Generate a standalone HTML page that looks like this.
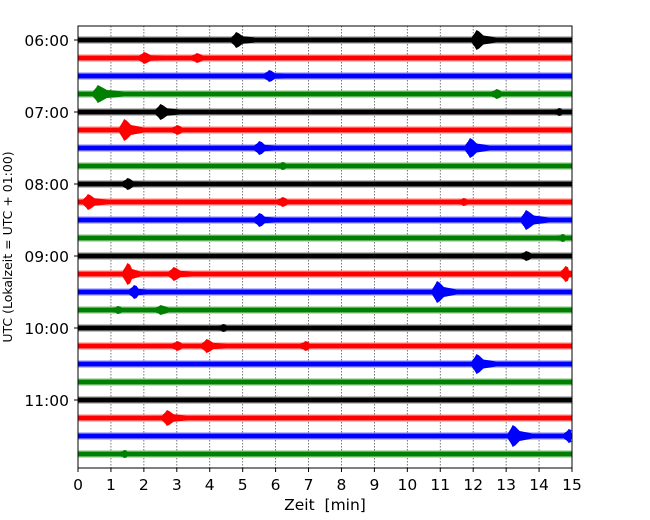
<!DOCTYPE html>
<html><head><meta charset="utf-8"><style>
html,body{margin:0;padding:0;background:#fff;width:650px;height:520px;overflow:hidden}
svg text{font-family:"DejaVu Sans","Liberation Sans",sans-serif;white-space:pre}
</style></head><body>
<svg id="chart" width="650" height="520" viewBox="0 0 650 520" xmlns="http://www.w3.org/2000/svg"></svg>
<script>
// data
const hourLabels = ["06:00","07:00","08:00","09:00","10:00","11:00"];
const xTickLabels = [0,1,2,3,4,5,6,7,8,9,10,11,12,13,14,15];
const traceColors = ["#000000","#ff0000","#0000ff","#008000"];
// events per trace: [minute, half-amplitude px, decay minutes]
const traceEvents = [
 [[4.8,8,0.6],[12.1,10,0.6]],
 [[2.0,6,0.6],[3.6,5,0.6]],
 [[5.8,6,0.5]],
 [[0.6,9,0.8],[12.7,5,0.5]],
 [[2.5,8,0.6],[14.6,4,0.3]],
 [[1.4,11,0.6],[3.0,5,0.5]],
 [[5.5,7,0.5],[11.9,10,0.6]],
 [[6.2,4,0.4]],
 [[1.5,6,0.5]],
 [[0.3,8,0.6],[6.2,5,0.5],[11.7,4,0.4]],
 [[5.5,7,0.5],[13.6,10,0.7]],
 [[14.7,4,0.3]],
 [[13.6,5,0.5]],
 [[1.5,11,0.4],[2.9,7,0.6],[14.8,8,0.3]],
 [[1.7,7,0.4],[10.9,11,0.6]],
 [[1.2,4,0.5],[2.5,5,0.8]],
 [[4.4,4,0.4]],
 [[3.0,5,0.5],[3.9,7,0.6],[6.9,5,0.4]],
 [[12.1,10,0.6]],
 [],
 [],
 [[2.7,8,0.6]],
 [[13.2,11,0.6],[14.9,7,0.2]],
 [[1.4,4,0.3]]
];
const NS="http://www.w3.org/2000/svg";
const svg=document.getElementById('chart');
const L=78,R=572,T=26,B=468,y0=40,dy=18;
const xs=m=>L+(Math.max(0,Math.min(15,m))/15)*(R-L);
const ys=i=>y0+i*dy;
function mk(tag,attrs){const e=document.createElementNS(NS,tag);for(const k in attrs)e.setAttribute(k,attrs[k]);svg.appendChild(e);return e;}
// grid
xTickLabels.forEach(m=>{
  if(m>0&&m<15){const g=mk('line',{x1:xs(m),x2:xs(m),y1:T,y2:B,stroke:'#555','stroke-width':0.8,'stroke-dasharray':'1.5,1.5'});
  
  }
});
// traces
traceEvents.forEach((evs,i)=>{
  const c=traceColors[i%4], y=ys(i);
  const band=mk('rect',{x:L,y:y-2.5,width:R-L,height:5,fill:c});
  
  
  const halo=mk('rect',{x:L,y:y-4,width:R-L,height:8,fill:c,opacity:0.25});
  
  
  evs.forEach(ev=>{
    const [t,a,d]=ev;
    const top=[[t-0.15,2.5],[t-0.05,a*0.7],[t,a],[t+0.08,a*0.85],[t+d*0.35,a*0.45],[t+d,2.5]];
    const pts=top.map(p=>xs(p[0])+','+(y-p[1])).concat(top.slice().reverse().map(p=>xs(p[0])+','+(y+p[1]))).join(' ');
    const p=mk('polygon',{points:pts,fill:c});
    
    
  });
});
// frame
const fr=mk('rect',{x:L,y:T,width:R-L,height:B-T,fill:'none',stroke:'#000','stroke-width':1});


// x ticks
xTickLabels.forEach(m=>{
  mk('line',{x1:xs(m),x2:xs(m),y1:B,y2:B+4,stroke:'#000','stroke-width':1});
  const t=mk('text',{x:xs(m),y:B+22,'text-anchor':'middle','font-size':15.5,fill:'#000'});
  t.textContent=m;
  
  
});
// y ticks
hourLabels.forEach((h,k)=>{
  const y=ys(k*4);
  mk('line',{x1:L-4,x2:L,y1:y,y2:y,stroke:'#000','stroke-width':1});
  const t=mk('text',{x:L-9,y:y+6,'text-anchor':'end','font-size':15.5,fill:'#000'});
  t.textContent=h;
  
  
});
const xt=mk('text',{x:325,y:510,'text-anchor':'middle','font-size':15.5,fill:'#000'});
xt.textContent='Zeit  [min]';


const yt=mk('text',{x:0,y:0,'text-anchor':'middle','font-size':12.5,fill:'#000',transform:'translate(12,247) rotate(-90)'});
yt.textContent='UTC (Lokalzeit = UTC + 01:00)';


</script>
</body></html>
